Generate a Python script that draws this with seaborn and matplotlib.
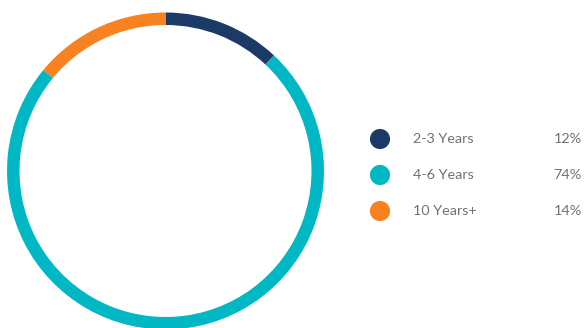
import matplotlib
matplotlib.use("Agg")
import matplotlib.pyplot as plt
import seaborn as sns
import pandas as pd

# Tenure distribution
categories = ["2-3 Years", "4-6 Years", "10 Years+"]
shares = [12, 74, 14]
colors = ["#1b3a68", "#00b8c4", "#f88120"]

sns.set_theme(style="white")
plt.rcParams["font.family"] = ["Lato", "DejaVu Sans"]

W, H, DPI = 584, 328, 100
fig = plt.figure(figsize=(W / DPI, H / DPI), dpi=DPI)

# Ring chart: square axes centred on the ring
cx, cy, r = 165.5, 171, 158.5
ax = fig.add_axes([(cx - r) / W, (H - cy - r) / H, 2 * r / W, 2 * r / H])
ax.pie(shares, colors=colors, startangle=90, counterclock=False, radius=1,
       wedgeprops=dict(width=12.5 / r, linewidth=0))
ax.set_xlim(-1, 1)
ax.set_ylim(-1, 1)
ax.set_aspect("equal")
ax.axis("off")

# Legend panel drawn with seaborn markers
lg = fig.add_axes([360 / W, 0, 224 / W, 1])
lg.set_xlim(360, 584)
lg.set_ylim(H, 0)
rows = [139 + 36 * i for i in range(len(categories))]
df = pd.DataFrame({"x": [380] * len(categories), "y": rows, "cat": categories})
sns.scatterplot(data=df, x="x", y="y", hue="cat", palette=colors, s=210,
                linewidth=0, legend=False, ax=lg)
lg.axis("off")
for y, name, val in zip(rows, categories, shares):
    lg.text(413, y, name, va="center", ha="left", fontsize=10.4, color="#727272")
    lg.text(582, y, f"{val}%", va="center", ha="right", fontsize=10.4, color="#727272")

fig.savefig("out.png", dpi=DPI)
